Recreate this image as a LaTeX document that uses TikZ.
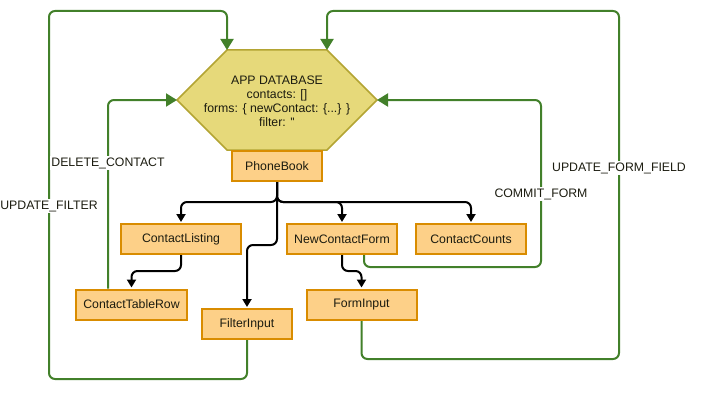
\documentclass[tikz,border=0pt]{standalone}
\usepackage{fontspec}
\setmainfont{Liberation Sans}
\usetikzlibrary{arrows.meta}
\pgfdeclarelayer{bg}
\pgfsetlayers{bg,main}
\definecolor{hexfill}{HTML}{E6D97A}
\definecolor{hexdraw}{HTML}{B3A433}
\definecolor{boxfill}{HTML}{FDD088}
\definecolor{boxdraw}{HTML}{D98C00}
\definecolor{grn}{HTML}{42802A}
\definecolor{txt}{HTML}{1C1C10}
\tikzset{
  comp/.style={draw=boxdraw, fill=boxfill, line width=2pt, minimum height=30pt, inner sep=0pt, text=txt, font=\fontsize{12.3}{14}\selectfont},
  blk/.style={draw=black, line width=2pt, rounded corners=6pt, -{Triangle[length=8pt,width=9pt]}, shorten >=1pt},
  act/.style={draw=grn, line width=2pt, rounded corners=6pt, -{Triangle[length=11pt,width=13pt]}},
  lbl/.style={fill=white, inner sep=1.5pt, text=txt, font=\fontsize{12.3}{14}\selectfont},
}
\begin{document}
\begin{tikzpicture}[x=1pt,y=-1pt]
\useasboundingbox (0,0) rectangle (704,404);
% hexagon corners
\coordinate (dbtl) at (227,50);
\coordinate (dbtr) at (327,50);
\coordinate (dbr) at (377,100);
\coordinate (dbbr) at (327,150);
\coordinate (dbbl) at (227,150);
\coordinate (dbl) at (177,100);
\node[align=center, text=txt, font=\fontsize{12.3}{14}\selectfont] (db) at (277,101) {APP DATABASE\\contacts: []\\forms: \{ newContact: \{...\} \}\\filter: \textquotesingle\kern-0.3pt\textquotesingle};
% components
\node[comp, minimum width=90pt] (pb) at (277,166) {PhoneBook};
\node[comp, minimum width=120pt] (cl) at (181,239) {ContactListing};
\node[comp, minimum width=110pt] (ncf) at (342,239) {NewContactForm};
\node[comp, minimum width=110pt] (cc) at (471,239) {ContactCounts};
\node[comp, minimum width=111pt] (ctr) at (131.5,304.5) {ContactTableRow};
\node[comp, minimum width=90pt] (fi) at (247,324) {FilterInput};
\node[comp, minimum width=110pt] (fmi) at (361.5,304.5) {FormInput};
\begin{pgfonlayer}{bg}
\draw[fill=hexfill, draw=hexdraw, line width=1.5pt, line join=miter] (dbtl) -- (dbtr) -- (dbr) -- (dbbr) -- (dbbl) -- (dbl) -- cycle;
% black connectors
\draw[blk] (pb.south) -- (pb.south |- 0,202) -| (cl.north);
\draw[blk] (pb.south) -- (pb.south |- 0,202) -| (ncf.north);
\draw[blk] (pb.south) -- (pb.south |- 0,202) -| (cc.north);
\draw[blk] (pb.south) -- (pb.south |- 0,245) -| (fi.north);
\draw[blk] (cl.south) -- (cl.south |- 0,271) -| (ctr.north);
\draw[blk] (ncf.south) -- (ncf.south |- 0,271) -| (fmi.north);
% green action connectors
\draw[act] (fi.south) |- (49,379) |- (dbtl |- 0,11) -- (dbtl);
\draw[act] (ctr.north -| 108,0) |- (dbl);
\draw[act] (ncf.south -| 364,0) |- (541,267) |- (dbr);
\draw[act] (fmi.south) |- (619,359) |- (dbtr |- 0,11) -- (dbtr);
\end{pgfonlayer}
% labels
\node[lbl] (l1) at (49,206) {UPDATE\_FILTER};
\node[lbl] (l2) at (108,163) {DELETE\_CONTACT};
\node[lbl] (l3) at (541,194) {COMMIT\_FORM};
\node[lbl] (l4) at (619,168) {UPDATE\_FORM\_FIELD};
\end{tikzpicture}
\end{document}
